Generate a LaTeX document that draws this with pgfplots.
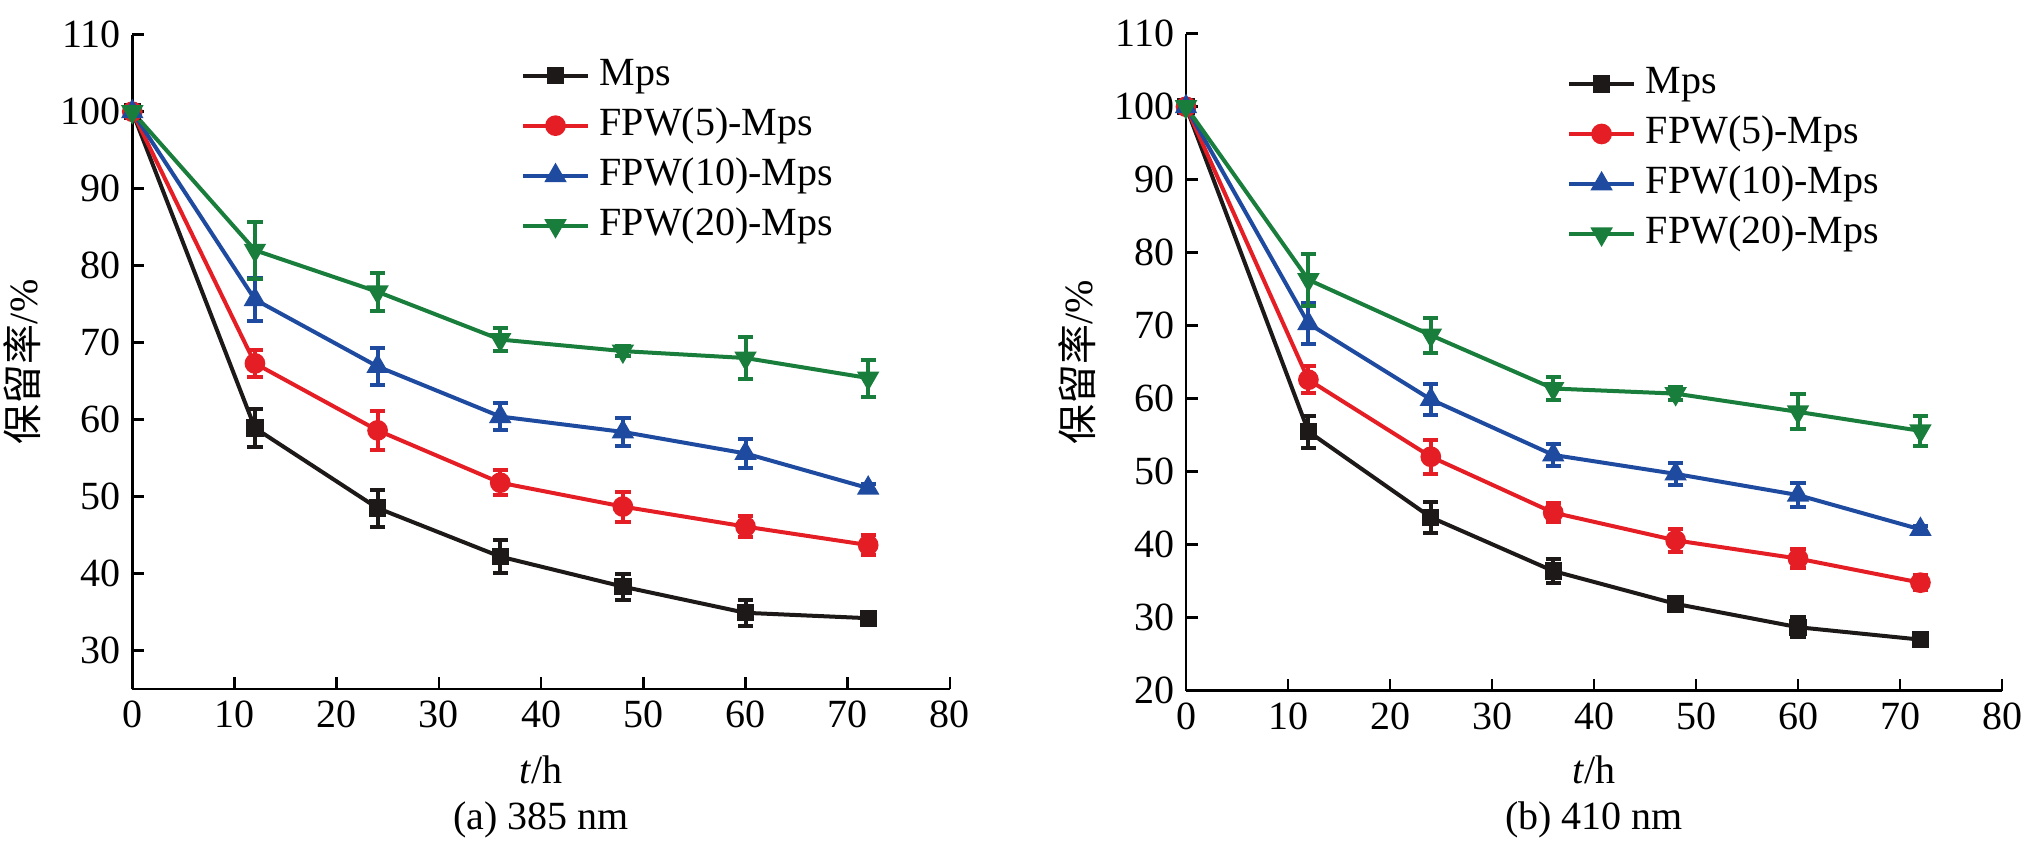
\documentclass[border=0pt]{standalone}
\usepackage{fontspec}
\setmainfont{Liberation Serif}
\newfontfamily\cjk{Noto Sans CJK SC}
\usepackage{pgfplots}
\pgfplotsset{compat=1.18}
\usepackage{pgfplotstable}

\definecolor{cblack}{RGB}{30,25,25}
\definecolor{cred}{RGB}{228,30,36}
\definecolor{cblue}{RGB}{30,75,160}
\definecolor{cgreen}{RGB}{25,125,60}

% ---- (a) 385 nm ----
\pgfplotstableread{
t y e
0 100 0
12 58.9 2.5
24 48.5 2.4
36 42.2 2.1
48 38.3 1.7
60 34.9 1.7
72 34.2 0.5
}\aA
\pgfplotstableread{
t y e
0 100 0
12 67.3 1.8
24 58.6 2.5
36 51.8 1.6
48 48.7 1.95
60 46.1 1.4
72 43.7 1.25
}\aB
\pgfplotstableread{
t y e
0 100 0
12 75.6 2.8
24 66.9 2.45
36 60.4 1.7
48 58.4 1.85
60 55.6 1.9
72 51.1 0.5
}\aC
\pgfplotstableread{
t y e
0 100 0
12 82.0 3.7
24 76.6 2.5
36 70.4 1.55
48 68.9 0.6
60 68.0 2.7
72 65.4 2.4
}\aD
% ---- (b) 410 nm ----
\pgfplotstableread{
t y e
0 100 0
12 55.5 2.2
24 43.75 2.15
36 36.4 1.65
48 31.9 0.8
60 28.7 1.35
72 27.0 0.6
}\bA
\pgfplotstableread{
t y e
0 100 0
12 62.6 1.85
24 52.05 2.3
36 44.4 1.25
48 40.6 1.6
60 38.1 1.25
72 34.8 1.05
}\bB
\pgfplotstableread{
t y e
0 100 0
12 70.3 2.8
24 59.9 2.15
36 52.3 1.55
48 49.7 1.5
60 46.8 1.7
72 42.1 0.5
}\bC
\pgfplotstableread{
t y e
0 100 0
12 76.3 3.55
24 68.7 2.4
36 61.4 1.55
48 60.7 0.9
60 58.2 2.4
72 55.6 2.05
}\bD

\pgfplotsset{
  myaxis/.style={
    scale only axis,
    clip=false,
    axis lines=left,
    axis line style={-, line width=0.8pt, black},
    every tick/.style={line width=0.8pt, black},
    tick align=inside,
    major tick length=3.6pt,
    xmin=0, xmax=80, xtick={0,10,...,80},
    tick label style={font=\fontsize{12}{14}\selectfont},
    /pgf/number format/assume math mode=true,
    label style={font=\fontsize{12}{14}\selectfont},
    xlabel={\textit{t}/h},
    ylabel={{\cjk 保留率}/\%},
    legend cell align=left,
    legend image code/.code={
      \draw[#1, mark repeat=2, mark phase=2] plot coordinates {(0pt,0pt) (9.65pt,0pt) (19.3pt,0pt)};
    },
  },
  ser/.style={
    color=#1, line width=1.2pt, mark options={solid, fill=#1},
    /pgfplots/error bars/y dir=both,
    /pgfplots/error bars/y explicit,
    /pgfplots/error bars/error mark=-,
    /pgfplots/error bars/error bar style={line width=1.2pt, color=#1},
    /pgfplots/error bars/error mark options={rotate=90, line width=1.2pt, mark size=2.3pt, color=#1},
  },
}

\begin{document}
\begin{tikzpicture}
\useasboundingbox (0,0) rectangle (607.2pt,-254.7pt);

\begin{axis}[myaxis,
  at={(39.69pt,-206.7pt)}, anchor=south west,
  width=245.3pt, height=196.3pt,
  ymin=25, ymax=110, ytick={30,40,...,110},
  xlabel style={at={(axis description cs:0.5,-0.1238)}, anchor=center},
  ylabel style={at={(axis description cs:-0.1345,0.5)}, anchor=center},
  legend style={draw=none, fill=none, inner sep=0pt, row sep=3pt,
    at={(axis description cs:0.475,0.969)}, anchor=north west,
    font=\fontsize{12}{14}\selectfont,
    nodes={inner ysep=0pt, inner xsep=3pt, text height=9pt, text depth=3pt}},
]
\addplot[ser=cblack, mark=square*, mark size=2pt] table[x=t,y=y,y error=e]{\aA};
\addplot[ser=cred, mark=*, mark size=2.5pt] table[x=t,y=y,y error=e]{\aB};
\addplot[ser=cblue, mark=triangle*, mark size=2.7pt] table[x=t,y=y,y error=e]{\aC};
\addplot[ser=cgreen, mark=triangle*, mark size=2.7pt, mark options={rotate=180}] table[x=t,y=y,y error=e]{\aD};
\legend{Mps, FPW(5)-Mps, FPW(10)-Mps, FPW(20)-Mps}
\node[font=\fontsize{12}{14}\selectfont] at (axis description cs:0.5,-0.2002) {(a) 385 nm};
\end{axis}

\begin{axis}[myaxis,
  at={(355.8pt,-207.21pt)}, anchor=south west,
  width=244.8pt, height=197.1pt,
  ymin=20, ymax=110, ytick={20,30,...,110},
  xlabel style={at={(axis description cs:0.5,-0.1207)}, anchor=center},
  ylabel style={at={(axis description cs:-0.134,0.5)}, anchor=center},
  legend style={draw=none, fill=none, inner sep=0pt, row sep=3pt,
    at={(axis description cs:0.4666,0.955)}, anchor=north west,
    font=\fontsize{12}{14}\selectfont,
    nodes={inner ysep=0pt, inner xsep=3pt, text height=9pt, text depth=3pt}},
]
\addplot[ser=cblack, mark=square*, mark size=2pt] table[x=t,y=y,y error=e]{\bA};
\addplot[ser=cred, mark=*, mark size=2.5pt] table[x=t,y=y,y error=e]{\bB};
\addplot[ser=cblue, mark=triangle*, mark size=2.7pt] table[x=t,y=y,y error=e]{\bC};
\addplot[ser=cgreen, mark=triangle*, mark size=2.7pt, mark options={rotate=180}] table[x=t,y=y,y error=e]{\bD};
\legend{Mps, FPW(5)-Mps, FPW(10)-Mps, FPW(20)-Mps}
\node[font=\fontsize{12}{14}\selectfont] at (axis description cs:0.5,-0.1968) {(b) 410 nm};
\end{axis}
\end{tikzpicture}
\end{document}
